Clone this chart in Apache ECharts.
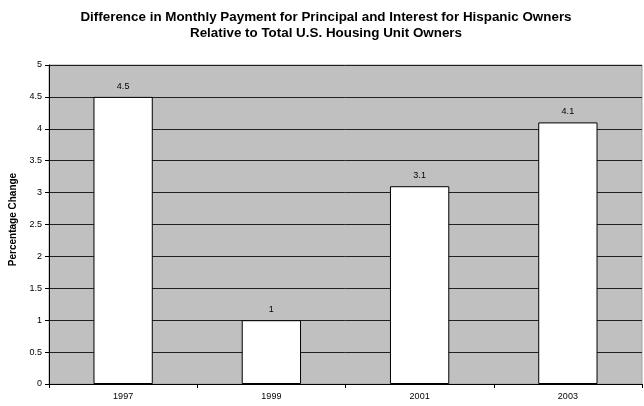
<!DOCTYPE html>
<html>
<head>
<meta charset="utf-8">
<script src="https://cdn.jsdelivr.net/npm/echarts@6/dist/echarts.min.js"></script>
<style>
  html, body { margin: 0; padding: 0; background: #fff; }
  #chart { width: 644px; height: 406px; }
</style>
</head>
<body>
<div id="chart"></div>
<script>
// Survey years and the percentage difference for each
const years = ['1997', '1999', '2001', '2003'];
const pctChange = [4.5, 1, 3.1, 4.1];
const yTicks = [0, 0.5, 1, 1.5, 2, 2.5, 3, 3.5, 4, 4.5, 5];

const chart = echarts.init(document.getElementById('chart'));
const font = 'Liberation Sans, Arial, Helvetica, sans-serif';

chart.setOption({
  animation: false,
  title: {
    text: 'Difference in Monthly Payment for Principal and Interest for Hispanic Owners\nRelative to Total U.S. Housing Unit Owners',
    left: 321,
    textAlign: 'center',
    top: 4,
    textStyle: { fontFamily: font, fontSize: 13.4, fontWeight: 'bold', color: '#000', lineHeight: 16.5 }
  },
  grid: {
    left: 49, right: 2, top: 65, bottom: 22,
    show: true, backgroundColor: '#C0C0C0', borderColor: '#A0A0A0', borderWidth: 1
  },
  xAxis: {
    type: 'category',
    data: years,
    axisLine: { lineStyle: { color: '#000', width: 1 } },
    axisTick: { show: true, alignWithLabel: false, length: 4, lineStyle: { color: '#000' } },
    axisLabel: { fontFamily: font, fontSize: 9, color: '#000', margin: 8 }
  },
  yAxis: {
    type: 'value',
    min: yTicks[0],
    max: yTicks[yTicks.length - 1],
    interval: 0.5,
    name: 'Percentage Change',
    nameLocation: 'middle',
    nameGap: 27,
    nameTextStyle: { fontFamily: font, fontSize: 10, fontWeight: 'bold', color: '#000', padding: [0, 0, 0, 10] },
    axisLine: { show: true, lineStyle: { color: '#000', width: 1 } },
    axisTick: { show: true, length: 4, lineStyle: { color: '#000' } },
    axisLabel: { fontFamily: font, fontSize: 9, color: '#000', margin: 7 },
    splitLine: { show: true, lineStyle: { color: '#202020', width: 1 } }
  },
  series: [{
    type: 'bar',
    data: pctChange,
    barWidth: '40%',
    itemStyle: { color: '#fff', borderColor: '#000', borderWidth: 1 },
    label: {
      show: true, position: 'top', distance: 6,
      fontFamily: font, fontSize: 9, color: '#000'
    }
  }]
});
</script>
</body>
</html>
